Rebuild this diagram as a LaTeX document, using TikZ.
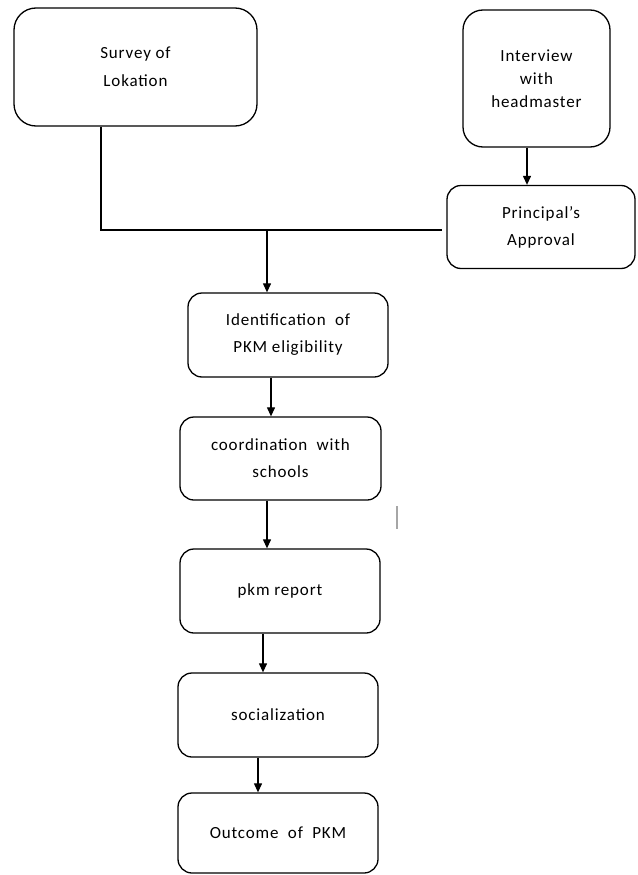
\documentclass[tikz,border=0pt]{standalone}
\usepackage{fontspec}
\setmainfont[LetterSpace=5]{Carlito}
\usetikzlibrary{arrows.meta}
\begin{document}
\begin{tikzpicture}[x=1pt,y=-1pt,
  box/.style={draw, line width=1.3pt, rounded corners=14pt, align=center,
    font=\fontsize{17}{27}\selectfont, inner sep=0pt},
  arr/.style={-{Triangle[width=8pt,length=9pt]}, line width=1.2pt},
  ln/.style={line width=1.2pt}]
\useasboundingbox (0,0) rectangle (637,875);

\node[box, rounded corners=22pt, minimum width=243pt, minimum height=118pt] (sv) at (135.5,67) {Survey of\\[1pt]Lokation};
\node[box, rounded corners=20pt, minimum width=147pt, minimum height=137pt,
  font=\fontsize{17}{23}\selectfont] (iv) at (536.5,78.5) {Interview\\with\\headmaster};
\node[box, minimum width=188pt, minimum height=83pt] (pa) at (541,227) {Principal's\\Approval};
\node[box, minimum width=200pt, minimum height=84pt] (id) at (288,335) {Identification\ \ of\\PKM eligibility};
\node[box, minimum width=201pt, minimum height=83pt] (co) at (280.5,458.5) {coordination\ \ with\\schools};
\node[box, minimum width=200pt, minimum height=84pt] (pk) at (280,591) {pkm report};
\node[box, minimum width=200pt, minimum height=84pt] (so) at (278,715) {socialization};
\node[box, minimum width=200pt, minimum height=80pt] (ou) at (278,833) {Outcome\ \ of\ \ PKM};

\coordinate (jr) at (442,230);
\coordinate (jm) at (267,230);
\coordinate (a1) at (527,0);
\coordinate (a2) at (271,0);
\coordinate (a3) at (267,0);
\coordinate (a4) at (263,0);
\coordinate (a5) at (258,0);
\coordinate (sx) at (101,0);

\draw[ln] (sv.south -| sx) |- (jr);
\draw[arr] (jm) -- (jm |- id.north);
\draw[arr] (iv.south -| a1) -- (pa.north -| a1);
\draw[arr] (id.south -| a2) -- (co.north -| a2);
\draw[arr] (co.south -| a3) -- (pk.north -| a3);
\draw[arr] (pk.south -| a4) -- (so.north -| a4);
\draw[arr] (so.south -| a5) -- (ou.north -| a5);

% stray mark
\coordinate (m1) at (397,506);
\coordinate (m2) at (397,529);
\draw[gray!70, line width=1.6pt] (m1) -- (m2);
\end{tikzpicture}
\end{document}
